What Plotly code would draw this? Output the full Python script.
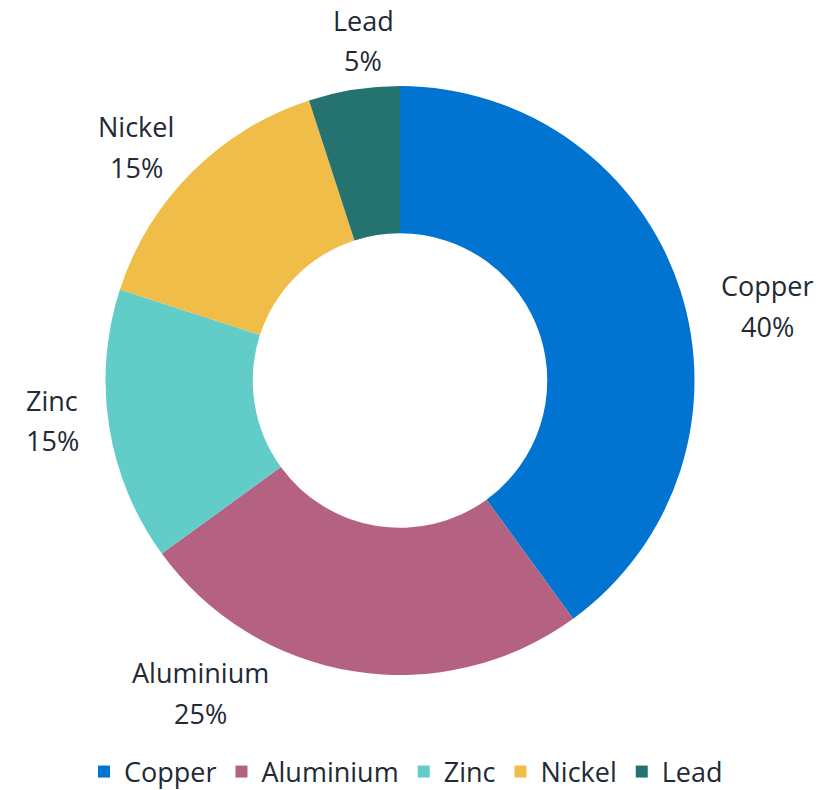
import plotly.graph_objects as go

labels = ["Copper", "Aluminium", "Zinc", "Nickel", "Lead"]
values = [40, 25, 15, 15, 5]
colors = ["#0074D0", "#B56282", "#62CDC8", "#F0BD48", "#247370"]

# label anchor positions in pixels (x, first line y, second line y)
label_px = {
    "Copper": (767, 286, 326),
    "Aluminium": (200, 672, 713),
    "Zinc": (52, 400, 440),
    "Nickel": (136, 127, 167),
    "Lead": (363, 20, 61),
}

W, H = 831, 790
FONT = "Open Sans"
TXT = "#222a35"

cx, cy, R = 400, 380.5, 294.5

fig = go.Figure(go.Pie(
    labels=labels, values=values, hole=0.5, sort=False, direction="clockwise",
    rotation=0, marker=dict(colors=colors, line=dict(width=0)),
    textinfo="none", hoverinfo="label+percent",
    domain=dict(x=[(cx - R) / W, (cx + R) / W], y=[(H - (cy + R)) / H, (H - (cy - R)) / H]),
))

total = sum(values)
ann = []
for lab, v in zip(labels, values):
    x, y1, y2 = label_px[lab]
    pct = f"{round(100 * v / total)}%"
    for txt, yy in ((lab, y1), (pct, y2)):
        ann.append(dict(x=x / W, y=1 - yy / H, xref="paper", yref="paper", text=txt,
                        showarrow=False, xanchor="center", yanchor="middle",
                        font=dict(family=FONT, size=27, color=TXT)))

fig.update_layout(
    width=W, height=H, margin=dict(l=0, r=0, t=0, b=0, autoexpand=False),
    paper_bgcolor="white", plot_bgcolor="white",
    annotations=ann,
    showlegend=True,
    legend=dict(orientation="h", x=406 / W, xanchor="center", y=1 - 772 / H, yanchor="middle",
                font=dict(family=FONT, size=27, color=TXT), itemclick=False),
)
fig.write_html("out.html")
